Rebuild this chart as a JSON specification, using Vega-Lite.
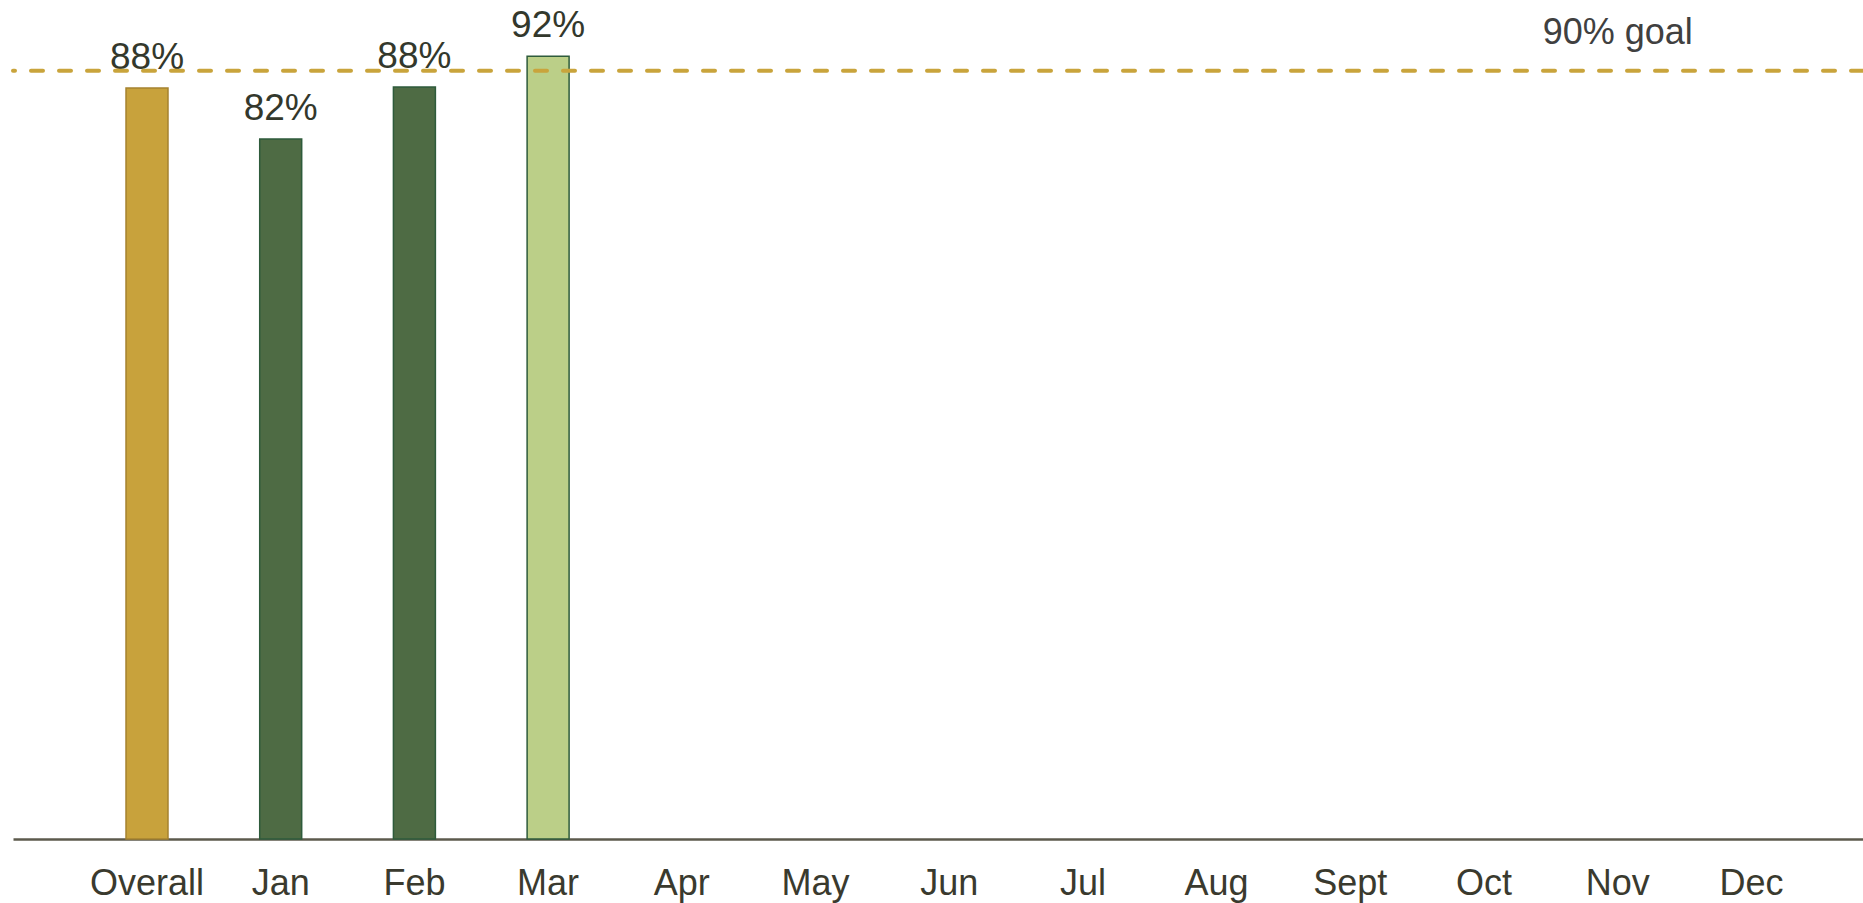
{
  "$schema": "https://vega.github.io/schema/vega-lite/v6.json",
  "autosize": {"type": "none"},
  "padding": {"left": 13, "top": 0, "right": 0, "bottom": 64},
  "width": 1850,
  "height": 839,
  "background": "white",
  "config": {
    "view": {"stroke": null},
    "font": "Liberation Sans"
  },
  "layer": [
    {
      "data": {
        "values": [
          {"month": "Overall", "rate": 0.88},
          {"month": "Jan", "rate": 0.82},
          {"month": "Feb", "rate": 0.881},
          {"month": "Mar", "rate": 0.917},
          {"month": "Apr", "rate": null},
          {"month": "May", "rate": null},
          {"month": "Jun", "rate": null},
          {"month": "Jul", "rate": null},
          {"month": "Aug", "rate": null},
          {"month": "Sept", "rate": null},
          {"month": "Oct", "rate": null},
          {"month": "Nov", "rate": null},
          {"month": "Dec", "rate": null}
        ]
      },
      "encoding": {
        "x": {
          "field": "month",
          "type": "nominal",
          "sort": null,
          "scale": {
            "domain": ["Overall", "Jan", "Feb", "Mar", "Apr", "May", "Jun", "Jul", "Aug", "Sept", "Oct", "Nov", "Dec"],
            "paddingInner": 0.686,
            "paddingOuter": 0.7615,
            "align": 0.555,
            "round": false
          },
          "axis": {
            "title": null,
            "domain": true,
            "domainColor": "#5c5a4c",
            "domainWidth": 2.5,
            "ticks": false,
            "grid": false,
            "labelAngle": 0,
            "labelFont": "Liberation Sans",
            "labelFontSize": 36,
            "labelColor": "#3a3a2e",
            "labelBaseline": "alphabetic",
            "labelPadding": 55
          }
        },
        "y": {
          "field": "rate",
          "type": "quantitative",
          "scale": {"domain": [0, 0.983], "nice": false, "zero": true},
          "axis": null
        }
      },
      "layer": [
        {
          "mark": {"type": "bar", "strokeWidth": 1.5},
          "encoding": {
            "color": {
              "field": "month",
              "type": "nominal",
              "scale": {"domain": ["Overall", "Jan", "Feb", "Mar"], "range": ["#c8a23c", "#4e6b44", "#4e6b44", "#bbcf88"]},
              "legend": null
            },
            "stroke": {
              "field": "month",
              "type": "nominal",
              "scale": {"domain": ["Overall", "Jan", "Feb", "Mar"], "range": ["#a5822f", "#2e5b3b", "#2e5b3b", "#2e5b3b"]},
              "legend": null
            }
          }
        },
        {
          "mark": {"type": "text", "baseline": "alphabetic", "dy": -19, "fontSize": 37, "color": "#33382c", "font": "Liberation Sans"},
          "encoding": {
            "text": {"field": "rate", "type": "quantitative", "format": ".0%"}
          }
        }
      ]
    },
    {
      "data": {"values": [{"goal": 0.9, "label": "90% goal"}]},
      "layer": [
        {
          "mark": {"type": "rule", "color": "#c9a43c", "strokeWidth": 4, "strokeDash": [12, 16], "strokeCap": "round"},
          "encoding": {"y": {"field": "goal", "type": "quantitative"}}
        },
        {
          "mark": {"type": "text", "baseline": "alphabetic", "dy": -27, "fontSize": 36, "color": "#404040", "font": "Liberation Sans"},
          "encoding": {
            "x": {"datum": "Nov"},
            "y": {"field": "goal", "type": "quantitative"},
            "text": {"field": "label", "type": "nominal"}
          }
        }
      ]
    }
  ]
}
